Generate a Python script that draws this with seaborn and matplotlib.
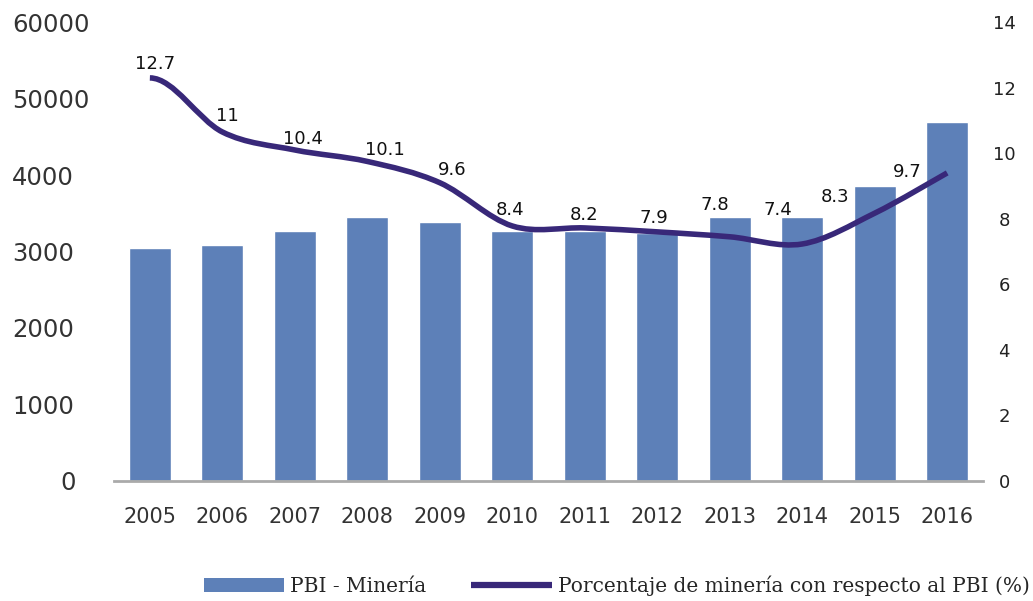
import numpy as np
import matplotlib
matplotlib.use('Agg')
import matplotlib.pyplot as plt
import seaborn as sns
from matplotlib.path import Path
from matplotlib.patches import PathPatch, Patch
from matplotlib.lines import Line2D

anios = ['2005', '2006', '2007', '2008', '2009', '2010',
         '2011', '2012', '2013', '2014', '2015', '2016']
pbi_mineria = [3046, 3085, 3268, 3451, 3386, 3268, 3268, 3242, 3451, 3451, 3856, 4693]
porcentaje = [12.3, 10.65, 10.1, 9.75, 9.1, 7.78, 7.72, 7.6, 7.45, 7.23, 8.17, 9.4]
etiquetas = ['12.7', '11', '10.4', '10.1', '9.6', '8.4', '8.2', '7.9', '7.8', '7.4', '8.3', '9.7']
ticks_izq = [0, 1000, 2000, 3000, 4000, 5000, 6000]
ticks_izq_txt = ['0', '1000', '2000', '3000', '4000', '50000', '60000']
ticks_der = [0, 2, 4, 6, 8, 10, 12, 14]

color_barra = '#5d80b8'
color_linea = '#382879'

sns.set_style('white')
plt.rcParams['font.family'] = ['DejaVu Sans']

fig, ax = plt.subplots(figsize=(10.33, 6.01), dpi=100)
fig.subplots_adjust(left=0.110, right=0.952, top=0.963, bottom=0.2)

sns.barplot(x=anios, y=pbi_mineria, color=color_barra, saturation=1, width=0.58, ax=ax)
ax.set_xlim(-0.5, 11.5)
ax.set_ylim(0, 6000)
ax.set_yticks(ticks_izq)
ax.set_yticklabels(ticks_izq_txt)
ax.tick_params(axis='y', length=0, pad=73, labelsize=17.5, labelcolor='#333333')
for t in ax.get_yticklabels():
    t.set_horizontalalignment('left')
ax.get_yticklabels()[0].set_x(0.055)
ax.tick_params(axis='x', length=0, pad=19, labelsize=15, labelcolor='#333333')
for s in ['top', 'right', 'left']:
    ax.spines[s].set_visible(False)
ax.spines['bottom'].set_color('#aaaaaa')
ax.spines['bottom'].set_linewidth(2)
ax.spines['bottom'].set_zorder(5)

ax2 = ax.twinx()
ax2.set_ylim(0, 14)
ax2.set_yticks(ticks_der)
ax2.tick_params(axis='y', length=0, pad=15, labelsize=13, labelcolor='#222222')
for t in ax2.get_yticklabels():
    t.set_horizontalalignment('center')
for s in ax2.spines.values():
    s.set_visible(False)

# smoothed line (Catmull-Rom -> bezier) through the data points, flat start
xs = np.arange(len(porcentaje), dtype=float)
ys = np.array(porcentaje)
verts = [(xs[0], ys[0])]
codes = [Path.MOVETO]
for i in range(len(xs) - 1):
    if i == 0:
        c1 = (xs[0] + 1 / 3, ys[0])
    else:
        c1 = (xs[i] + 1 / 3, ys[i] + (ys[i + 1] - ys[i - 1]) / 6)
    x3, y3 = (xs[i + 2], ys[i + 2]) if i + 2 < len(xs) else (xs[i + 1], ys[i + 1])
    c2 = (xs[i + 1] - (x3 - xs[i]) / 6, ys[i + 1] - (y3 - ys[i]) / 6)
    verts += [c1, c2, (xs[i + 1], ys[i + 1])]
    codes += [Path.CURVE4] * 3
ax2.add_patch(PathPatch(Path(verts, codes), facecolor='none', edgecolor=color_linea,
                        lw=4, capstyle='butt', zorder=4))

desplaz = [(5, 14), (5, 16), (8, 11), (18, 11), (12, 13), (-2, 16),
           (-1, 13), (-3, 14), (-15, 32), (-24, 34), (-40, 16), (-40, 1)]
for i, (txt, (dx, dy)) in enumerate(zip(etiquetas, desplaz)):
    ax2.annotate(txt, (i, porcentaje[i]), xytext=(dx * 0.72, dy * 0.72),
                 textcoords='offset points', ha='center', va='center',
                 fontsize=13, color='#111111')

handles = [Patch(facecolor=color_barra, edgecolor='none'),
           Line2D([], [], color=color_linea, lw=4.5, solid_capstyle='butt')]
fig.legend(handles, ['PBI - Minería', 'Porcentaje de minería con respecto al PBI (%)'],
           loc='center', bbox_to_anchor=(0.597, 0.025), ncol=2, frameon=False,
           prop={'family': 'DejaVu Serif', 'size': 14.5}, handlelength=4.0,
           handleheight=0.65, handletextpad=0.3, columnspacing=2.2)

fig.savefig('out.png', dpi=100)
